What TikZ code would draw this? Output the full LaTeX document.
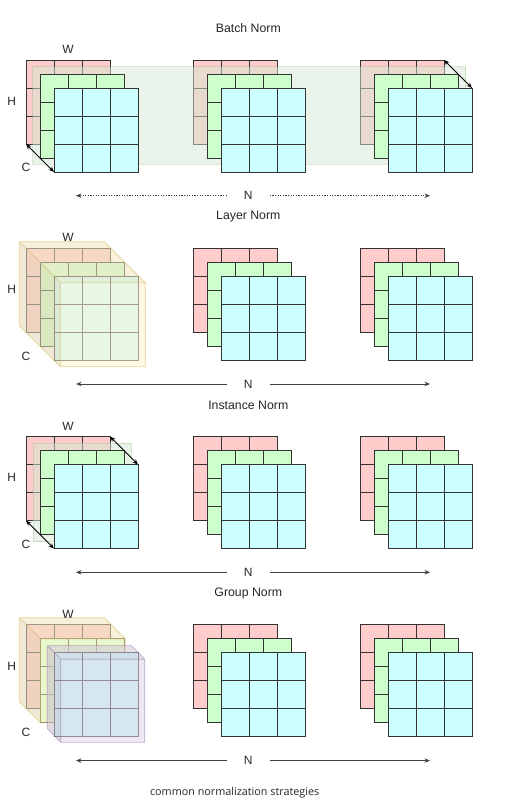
\documentclass[tikz,border=0pt]{standalone}
\usepackage{fontspec}
\setmainfont{Liberation Sans}
\newfontfamily\capfont{Open Sans}
\usetikzlibrary{calc,arrows.meta}
\definecolor{cred}{HTML}{FFCCCC}
\definecolor{cgreen}{HTML}{CCFFCC}
\definecolor{ccyan}{HTML}{CCFFFF}
\definecolor{gline}{HTML}{333333}
\definecolor{bnfill}{HTML}{D5E8D4}
\definecolor{bnline}{HTML}{82B366}
\definecolor{yfill}{HTML}{FFF2CC}
\definecolor{yline}{HTML}{D6B656}
\definecolor{pfill}{HTML}{E1D5E7}
\definecolor{pline}{HTML}{9673A6}
\def\dy{188.3}
\newcommand\cellgrid[4]{%
  \node[gridbox, fill=#4] (#1) at (#2,#3) {};
  \foreach \k in {1,2} {
    \draw[gridline] ($(#1.north west)+(28*\k,0)$) -- ++(0,84);
    \draw[gridline] ($(#1.north west)+(0,28*\k)$) -- ++(84,0);
  }%
}
\newcommand\tcube[8]{%
  \coordinate (#1btl) at (#2,#3);
  \coordinate (#1btr) at ($(#1btl)+(#4,0)$);
  \coordinate (#1bbl) at ($(#1btl)+(0,#5)$);
  \coordinate (#1ftl) at ($(#1btl)+(#6,#6)$);
  \coordinate (#1ftr) at ($(#1btr)+(#6,#6)$);
  \coordinate (#1fbl) at ($(#1bbl)+(#6,#6)$);
  \coordinate (#1fbr) at ($(#1ftr)+(0,#5)$);
  \fill[#7, fill opacity=0.55] (#1btl) -- (#1btr) -- (#1ftr) -- (#1fbr) -- (#1fbl) -- (#1bbl) -- cycle;
  \fill[black, fill opacity=0.03] (#1btl) -- (#1btr) -- (#1ftr) -- (#1ftl) -- cycle;
  \fill[black, fill opacity=0.06] (#1btl) -- (#1ftl) -- (#1fbl) -- (#1bbl) -- cycle;
  \draw[#8, line width=0.8pt, draw opacity=0.55, line join=round]
    (#1btl) -- (#1btr) -- (#1ftr) -- (#1fbr) -- (#1fbl) -- (#1bbl) -- cycle
    (#1ftl) -- (#1btl) (#1ftl) -- (#1ftr) (#1ftl) -- (#1fbl);
}
\begin{document}
\begin{tikzpicture}[x=1pt,y=-1pt,
  gridbox/.style={draw=gline, line width=0.9pt, minimum width=84pt, minimum height=84pt,
    inner sep=0pt, outer sep=0pt, anchor=north west},
  gridline/.style={draw=gline, line width=0.9pt},
  lbl/.style={font=\fontsize{12}{14}\selectfont, text=black!85, inner sep=1pt},
  ttl/.style={font=\fontsize{12.3}{14}\selectfont, text=black!85, inner sep=1pt},
  nlbl/.style={font=\fontsize{12}{14}\selectfont, text=black!85, inner ysep=1pt, inner xsep=17pt},
  tipA/.tip={Stealth[length=5.5pt,width=4.5pt]},
  narrow/.style={draw=black!75, line width=0.9pt, -tipA},
  ndots/.style={narrow, dash pattern=on 1.2pt off 1.4pt},
  dbl/.style={draw=black, line width=0.9pt, tipA-tipA},
  greenrect/.style={fill=bnfill, fill opacity=0.5, draw=bnline, draw opacity=0.3, line width=0.8pt}
]
\useasboundingbox (0,0) rectangle (513,805);

% ---------------- Batch Norm ----------------
\node[ttl] (tA) at (248.3,28.5) {Batch Norm};
\foreach \p in {0,1,2} { \cellgrid{rA\p}{26+167*\p}{60}{cred} }
\draw[greenrect] (32.7,66.7) rectangle (465.7,164.3);
\foreach \p in {0,1,2} {
  \cellgrid{gA\p}{40+167*\p}{74}{cgreen}
  \cellgrid{cA\p}{54+167*\p}{88}{ccyan}
}
\draw[dbl] (rA0.south west) -- (cA0.south west);
\draw[dbl] (rA2.north east) -- (cA2.north east);
\node[lbl] (wA) at (68,49.3) {W};
\node[lbl] (hA) at (11.7,101) {H};
\node[lbl] (kA) at (26,167.7) {C};
\node[nlbl] (nA) at (248.3,195.7) {N};
\coordinate (lA) at (76,195.7);
\coordinate (eA) at (430,195.7);
\draw[ndots] (nA.west) -- (lA);
\draw[ndots] (nA.east) -- (eA);

% ---------------- Layer Norm ----------------
\node[ttl] (tB) at (248.3,28.5+\dy) {Layer Norm};
\foreach \p in {0,1,2} {
  \cellgrid{rB\p}{26+167*\p}{60+\dy}{cred}
  \cellgrid{gB\p}{40+167*\p}{74+\dy}{cgreen}
  \cellgrid{cB\p}{54+167*\p}{88+\dy}{ccyan}
}
\tcube{yB}{19.3}{241.7}{85}{84}{41}{yfill}{yline}
\node[lbl] (wB) at (68,49.3+\dy) {W};
\node[lbl] (hB) at (11.7,101+\dy) {H};
\node[lbl] (kB) at (26,167.7+\dy) {C};
\node[nlbl] (nB) at (248.3,195.7+\dy) {N};
\coordinate (lB) at (76,195.7+\dy);
\coordinate (eB) at (430,195.7+\dy);
\draw[narrow] (nB.west) -- (lB);
\draw[narrow] (nB.east) -- (eB);

% ---------------- Instance Norm ----------------
\node[ttl] (tC) at (248.3,28.5+2*\dy) {Instance Norm};
\foreach \p in {0,1,2} { \cellgrid{rC\p}{26+167*\p}{60+2*\dy}{cred} }
\draw[greenrect] (33,66.3+2*\dy) rectangle (131,165+2*\dy);
\foreach \p in {0,1,2} {
  \cellgrid{gC\p}{40+167*\p}{74+2*\dy}{cgreen}
  \cellgrid{cC\p}{54+167*\p}{88+2*\dy}{ccyan}
}
\draw[dbl] (rC0.south west) -- (cC0.south west);
\draw[dbl] (rC0.north east) -- (cC0.north east);
\node[lbl] (wC) at (68,49.3+2*\dy) {W};
\node[lbl] (hC) at (11.7,101+2*\dy) {H};
\node[lbl] (kC) at (26,167.7+2*\dy) {C};
\node[nlbl] (nC) at (248.3,195.7+2*\dy) {N};
\coordinate (lC) at (76,195.7+2*\dy);
\coordinate (eC) at (430,195.7+2*\dy);
\draw[narrow] (nC.west) -- (lC);
\draw[narrow] (nC.east) -- (eC);

% ---------------- Group Norm ----------------
\node[ttl] (tD) at (248.3,28.5+3*\dy) {Group Norm};
\foreach \p in {0,1,2} {
  \cellgrid{rD\p}{26+167*\p}{60+3*\dy}{cred}
  \cellgrid{gD\p}{40+167*\p}{74+3*\dy}{cgreen}
}
\tcube{yD}{19.3}{617.7}{85}{84}{21}{yfill}{yline}
\foreach \p in {0,1,2} { \cellgrid{cD\p}{54+167*\p}{88+3*\dy}{ccyan} }
\tcube{pD}{47.3}{645.7}{84}{83}{13.5}{pfill}{pline}
\node[lbl] (wD) at (68,49.3+3*\dy) {W};
\node[lbl] (hD) at (11.7,101+3*\dy) {H};
\node[lbl] (kD) at (26,167.7+3*\dy) {C};
\node[nlbl] (nD) at (248.3,195.7+3*\dy) {N};
\coordinate (lD) at (76,195.7+3*\dy);
\coordinate (eD) at (430,195.7+3*\dy);
\draw[narrow] (nD.west) -- (lD);
\draw[narrow] (nD.east) -- (eD);

\node[font=\capfont\fontsize{10.8}{13}\selectfont, text=black!85] (cap) at (234.7,793) {common normalization strategies};
\end{tikzpicture}
\end{document}
